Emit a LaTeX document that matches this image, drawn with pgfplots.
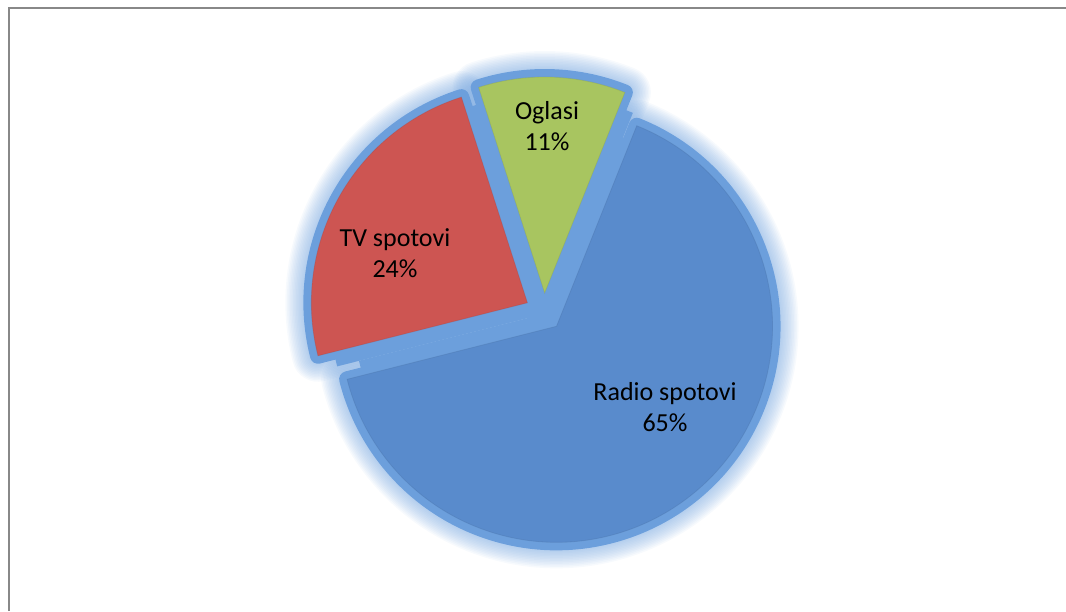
\documentclass[border=0pt]{standalone}
\usepackage{pgfplots}
\usepackage{pgfplotstable}
\pgfplotsset{compat=1.18}
\usetikzlibrary{calc}
\usepackage{fontspec}
\setmainfont{Carlito}
\definecolor{pieblue}{RGB}{89,139,204}
\definecolor{piered}{RGB}{205,85,82}
\definecolor{piegreen}{RGB}{168,197,96}
\definecolor{band}{RGB}{108,159,220}
\definecolor{frame}{RGB}{136,136,136}

\pgfplotstableread{
label value
Radio 65
TV 24
Oglasi 11
}\piedata

% slice: #1 start angle, #2 end angle, #3 mid angle, #4 options
\newcommand{\slice}[4]{\path[#4] (axis cs:544,299) ++(#3:19pt) -- ++(#1:216pt) arc[start angle=#1, end angle=#2, radius=216pt] -- cycle;}
\newcommand{\edges}[3]{\draw[band, line width=30pt] (axis cs:544,299) ++(#3:19pt) -- ++(#1:200pt); \draw[band, line width=30pt] (axis cs:544,299) ++(#3:19pt) -- ++(#2:200pt);}
\newcommand{\halo}[1]{%
  \slice{\aS}{\aA}{\mA}{draw=band, line width=#1pt, opacity=0.055, line join=round}%
  \slice{\aA}{\aB}{\mB}{draw=band, line width=#1pt, opacity=0.055, line join=round}%
  \slice{\aB}{\aC}{\mC}{draw=band, line width=#1pt, opacity=0.055, line join=round}}

\begin{document}%
\begin{tikzpicture}
\pgfplotstablegetelem{0}{value}\of\piedata \pgfmathsetmacro{\vA}{\pgfplotsretval}
\pgfplotstablegetelem{1}{value}\of\piedata \pgfmathsetmacro{\vB}{\pgfplotsretval}
\pgfplotstablegetelem{2}{value}\of\piedata \pgfmathsetmacro{\vC}{\pgfplotsretval}
\pgfmathsetmacro{\aS}{68.2}
\pgfmathsetmacro{\aA}{\aS-3.6*\vA}
\pgfmathsetmacro{\aB}{\aA-3.6*\vB}
\pgfmathsetmacro{\aC}{\aB-3.6*\vC}
\pgfmathsetmacro{\mA}{(\aS+\aA)/2}
\pgfmathsetmacro{\mB}{(\aA+\aB)/2}
\pgfmathsetmacro{\mC}{(\aB+\aC)/2}
\begin{axis}[width=1066pt,height=611pt,scale only axis,
  xmin=0,xmax=1066,ymin=0,ymax=611,hide axis]
% soft halo
\halo{52}
\halo{49}
\halo{46}
\halo{43}
\halo{40}
\halo{37}
\halo{34}
\halo{31}
\halo{28}
\halo{25}
\halo{22}
\halo{19}
% bevel band
\slice{\aS}{\aA}{\mA}{draw=band, fill=band, line width=16pt, line join=round}
\slice{\aA}{\aB}{\mB}{draw=band, fill=band, line width=16pt, line join=round}
\slice{\aB}{\aC}{\mC}{draw=band, fill=band, line width=16pt, line join=round}
\edges{\aS}{\aA}{\mA}
\edges{\aA}{\aB}{\mB}
\edges{\aB}{\aC}{\mC}
\filldraw[band, line width=24pt, line join=round] ($(axis cs:544,299)+(\mA:19pt)$) -- ($(axis cs:544,299)+(\mB:19pt)$) -- ($(axis cs:544,299)+(\mC:19pt)$) -- cycle;
% fills
\slice{\aS}{\aA}{\mA}{fill=pieblue, draw=pieblue!80!black, draw opacity=0.3, line width=0.8pt}
\slice{\aA}{\aB}{\mB}{fill=piered, draw=piered!80!black, draw opacity=0.3, line width=0.8pt}
\slice{\aB}{\aC}{\mC}{fill=piegreen, draw=piegreen!80!black, draw opacity=0.3, line width=0.8pt}
% labels
\node[align=center, font=\fontsize{26}{31}\selectfont, inner sep=0pt] at (axis cs:665,204) {Radio spotovi\\65\%};
\node[align=center, font=\fontsize{26}{31}\selectfont, inner sep=0pt] at (axis cs:395,358) {TV spotovi\\24\%};
\node[align=center, font=\fontsize{26}{31}\selectfont, inner sep=0pt] at (axis cs:547,485) {Oglasi\\11\%};
% frame
\draw[frame, line width=2pt] (axis cs:9,0) -- (axis cs:9,603) -- (axis cs:1066,603);
\end{axis}
\pgfresetboundingbox
\useasboundingbox (current axis.south west) rectangle (current axis.north east);
\end{tikzpicture}%
\end{document}
